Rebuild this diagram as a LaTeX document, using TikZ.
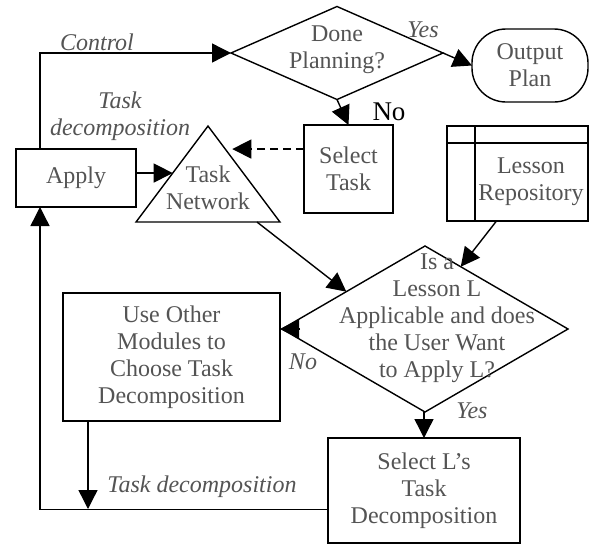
\documentclass[tikz,border=0pt]{standalone}
\usepackage{fontspec}
\setmainfont{Liberation Serif}
\usepackage{tikz}
\usetikzlibrary{positioning}
\usetikzlibrary{shapes.geometric}
\usetikzlibrary{arrows.meta}
\usetikzlibrary{calc}
\definecolor{txtgray}{gray}{0.33}
\tikzset{
  arrow_flow/.style={-{Triangle[length=19pt, width=19pt]}, line width=1.4pt, color=black},
  arrow_dash/.style={arrow_flow, dashed, dash pattern=on 8pt off 5pt},
  line_plain/.style={line width=1.4pt, color=black},
  box_node/.style={rectangle, draw, line width=1.4pt, align=center, text=txtgray, inner sep=0, outer sep=0},
  decision_node/.style={diamond, draw, line width=1.4pt, inner sep=0, outer sep=0},
  end_node/.style={rectangle, rounded corners=34pt, draw, line width=1.4pt, align=center, text=txtgray, inner sep=0, outer sep=0},
  text_node/.style={draw=none, align=center, text=txtgray},
  label_node/.style={draw=none, align=center, text=txtgray, font=\fontsize{24}{27}\selectfont\itshape}}
\begin{document}
\begin{tikzpicture}[x=1pt, y=-1pt, font=\fontsize{24}{27}\selectfont]
\useasboundingbox (0,0) rectangle (590,544);

\node[decision_node, minimum width=212pt, minimum height=93pt] at (337,53) (done) {};
\node[text_node] at (337,50) (done_txt) {Done\\Planning?};
\node[end_node, minimum width=116pt, minimum height=73pt] at (530,65.5) (output) {Output\\Plan};
\node[box_node, minimum width=89pt, minimum height=88pt] at (348.5,169) (seltask) {Select\\Task};
\node[box_node, minimum width=120pt, minimum height=58pt] at (76,178) (apply) {Apply};

%% task network triangle
\coordinate (tn_apex) at (208,126);
\coordinate (tn_left) at (136,222);
\coordinate (tn_right) at (280,222);
\draw[line_plain, line join=miter] (tn_apex) -- (tn_right) -- (tn_left) -- cycle;
\node[text_node] at (208,188) (tasknet) {Task\\Network};

\node[box_node, minimum width=141pt, minimum height=95pt] at (517.5,173.5) (repo) {};
\draw[line_plain] ($(repo.north west)+(0,17)$) -- ($(repo.north east)+(0,17)$);
\draw[line_plain] ($(repo.north west)+(28,0)$) -- ($(repo.south west)+(28,0)$);
\node[text_node] at (531,182) (repo_txt) {Lesson\\Repository};

\node[decision_node, minimum width=286pt, minimum height=166pt] at (425,329) (lesson) {};
\node[text_node] at (437,318) (lesson_txt) {Is a\\Lesson L\\Applicable and does\\the User Want\\to Apply L?};

\node[box_node, minimum width=217pt, minimum height=128pt] at (171.5,357) (other) {Use Other\\Modules to\\Choose Task\\Decomposition};
\node[box_node, minimum width=192pt, minimum height=105pt] at (424,490.5) (sellesson) {Select L’s\\Task\\Decomposition};

%% labels
\node[label_node] at (97,42) (lbl_control) {Control};
\node[label_node] at (120,116) (lbl_taskdec) {Task\\decomposition};
\node[label_node] at (423,30) (lbl_yes) {Yes};
\node[draw=none, font=\fontsize{27}{30}\selectfont] at (389,112) (lbl_no) {No};
\node[label_node] at (303,362) (lbl_no_use) {No};
\node[label_node] at (472,411) (lbl_yes_use) {Yes};
\node[label_node] at (202,487) (lbl_taskdec_back) {Task decomposition};

%% arrows
\draw[arrow_flow] ([xshift=24pt]apply.north west) |- (done.west);
\draw[arrow_flow] (done.east) -- (output.west);
\draw[arrow_flow] (done.south) -- (seltask.north);

\coordinate (tn_hit) at ($(tn_apex)!0.24!(tn_right)+(7,0)$);
\draw[arrow_dash] (seltask.west |- tn_hit) -- (tn_hit);
\coordinate (tn_in) at ($(tn_apex)!0.49!(tn_left)$);
\draw[arrow_flow] (apply.east |- tn_in) -- (tn_in);

\draw[arrow_flow] ($(tn_left)!0.84!(tn_right)$) -- ($(lesson.west)!0.45!(lesson.north)$);
\draw[arrow_flow] ([xshift=-21pt]repo.south) -- ($(lesson.north)!0.25!(lesson.east)$);
\draw[arrow_flow] ([xshift=18pt]lesson.west) -- (other.east |- lesson.west);
\draw[arrow_flow] (sellesson.north |- lesson.south) -- (sellesson.north);

\coordinate (td_join) at (88,509);
\draw[arrow_flow] (other.south -| td_join) -- (td_join);
\draw[arrow_flow] ([yshift=-19pt]sellesson.west) -| ([xshift=24pt]apply.south west);

\end{tikzpicture}
\end{document}
